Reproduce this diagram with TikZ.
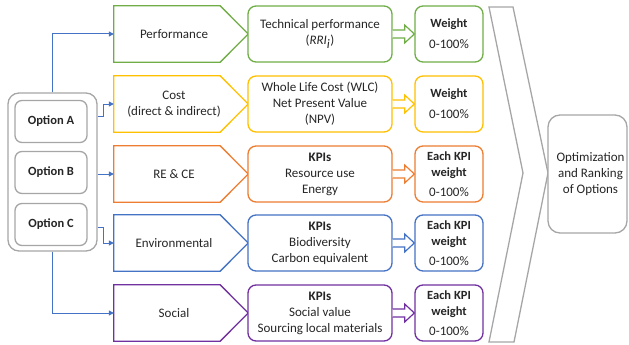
\documentclass[tikz,border=0pt]{standalone}
\usepackage{fontspec}
\setmainfont{Carlito}
\usetikzlibrary{arrows.meta,calc}
\definecolor{cgreen}{HTML}{70AD47}
\definecolor{cyellow}{HTML}{FFC000}
\definecolor{corange}{HTML}{ED7D31}
\definecolor{cblue}{HTML}{4472C4}
\definecolor{cpurple}{HTML}{7030A0}
\definecolor{cgray}{HTML}{A6A6A6}
\definecolor{txt}{HTML}{262626}
\newcommand\hollowarr[3]{%
  \draw[line width=1.2pt, draw=#3, fill=white]
    ($(#1.east)+(0,-4)$) -- ++(12,0) -- ++(0,-5) -- (#2.west)
    -- ($(#1.east)+(12,9)$) -- ++(0,-5) -- ($(#1.east)+(0,4)$);}
\newcommand\pentdraw[2]{%
  \draw[draw=#2, line width=1.3pt, line join=miter]
    (#1.north west) -- ([xshift=-28pt]#1.north east) -- (#1.east)
    -- ([xshift=-28pt]#1.south east) -- (#1.south west) -- cycle;}
\newcommand\wtxt[1]{\textbf{\fontsize{12.5}{15}\selectfont #1}}
\begin{document}
\begin{tikzpicture}[x=1pt,y=-1pt,
  every node/.style={text=txt},
  pent/.style={shape=rectangle, minimum width=134pt, minimum height=56pt,
    inner sep=0pt, font=\fontsize{13}{16}\selectfont,
    execute at end node=\kern14pt},
  tbox/.style={draw=#1, rounded corners=8pt, line width=1.3pt, fill=white,
    minimum width=144pt, minimum height=56pt, inner sep=0pt, align=center,
    font=\fontsize{13}{16}\selectfont},
  wbox/.style={draw=#1, rounded corners=8pt, line width=1.3pt, fill=white,
    minimum width=68pt, minimum height=56pt, inner sep=0pt, align=center,
    font=\fontsize{13}{16}\selectfont},
  optbox/.style={draw=cgray, rounded corners=7pt, line width=1.3pt, fill=white,
    minimum width=72pt, minimum height=42pt, inner sep=0pt,
    font=\bfseries\fontsize{12.5}{15}\selectfont},
  conn/.style={draw=cblue, line width=1pt, -{Triangle[length=5pt,width=5pt]}}
]
\useasboundingbox (0,0) rectangle (629,345);

% big chevron
\draw[cgray, line width=1.3pt, line join=miter]
  (489,7) -- (513,7) -- (548,173) -- (514,342) -- (489,342) -- (523,173) -- cycle;

% options container
\node[draw=cgray, rounded corners=11pt, line width=1.3pt,
  minimum width=89pt, minimum height=158pt, inner sep=0pt] (opts) at (52.5,172) {};
\node[optbox] (A) at (51,121.5) {Option A};
\node[optbox] (B) at (51,172.5) {Option B};
\node[optbox] (C) at (51,224.5) {Option C};

% first column
\node[pent] (p1) at (181,34) {Performance};
\node[pent] (p2) at (181,104) {\begin{tabular}{@{}c@{}}Cost\\(direct \& indirect)\end{tabular}};
\node[pent] (p3) at (181,174) {RE \& CE};
\node[pent] (p4) at (181,243) {Environmental};
\node[pent] (p5) at (181,313) {Social};
\pentdraw{p1}{cgreen}
\pentdraw{p2}{cyellow}
\pentdraw{p3}{corange}
\pentdraw{p4}{cblue}
\pentdraw{p5}{cpurple}

% second column
\node[tbox=cgreen] (t1) at (320,34) {Technical performance\\(\textit{RRI}$_{\textit{i}}$)};
\node[tbox=cyellow] (t2) at (320,104) {Whole Life Cost (WLC)\\Net Present Value\\(NPV)};
\node[tbox=corange] (t3) at (320,174) {\textbf{KPIs}\\Resource use\\Energy};
\node[tbox=cblue] (t4) at (320,243) {\textbf{KPIs}\\Biodiversity\\Carbon equivalent};
\node[tbox=cpurple] (t5) at (320,313) {\textbf{KPIs}\\Social value\\Sourcing local materials};

% weight column
\node[wbox=cgreen] (w1) at (449,34) {\wtxt{Weight}\\[5pt]0-100\%};
\node[wbox=cyellow] (w2) at (449,104) {\wtxt{Weight}\\[5pt]0-100\%};
\node[wbox=corange] (w3) at (449,174) {\wtxt{Each KPI}\\\wtxt{weight}\\[4pt]0-100\%};
\node[wbox=cblue] (w4) at (449,243) {\wtxt{Each KPI}\\\wtxt{weight}\\[4pt]0-100\%};
\node[wbox=cpurple] (w5) at (449,313) {\wtxt{Each KPI}\\\wtxt{weight}\\[4pt]0-100\%};

% hollow arrows
\hollowarr{t1}{w1}{cgreen}
\hollowarr{t2}{w2}{cyellow}
\hollowarr{t3}{w3}{corange}
\hollowarr{t4}{w4}{cblue}
\hollowarr{t5}{w5}{cpurple}

% optimization box
\node[draw=cgray, rounded corners=12pt, line width=1.3pt, fill=white,
  minimum width=79pt, minimum height=118pt, inner sep=0pt, align=center,
  font=\fontsize{13}{16}\selectfont] (opt) at (587.5,174)
  {\hspace*{6pt}Optimization\\\hspace*{6pt}and Ranking\\\hspace*{6pt}of Options};

% blue connectors
\draw[conn] (opts.north) |- (p1.west);
\draw[conn] ([yshift=5pt]A.center -| opts.east) -- ++(6,0) |- (p2.west);
\draw[conn] (opts.east |- p3.west) -- (p3.west);
\draw[conn] ([yshift=-3pt]C.center -| opts.east) -- ++(6,0) |- (p4.west);
\draw[conn] (opts.south) |- (p5.west);
\end{tikzpicture}
\end{document}
